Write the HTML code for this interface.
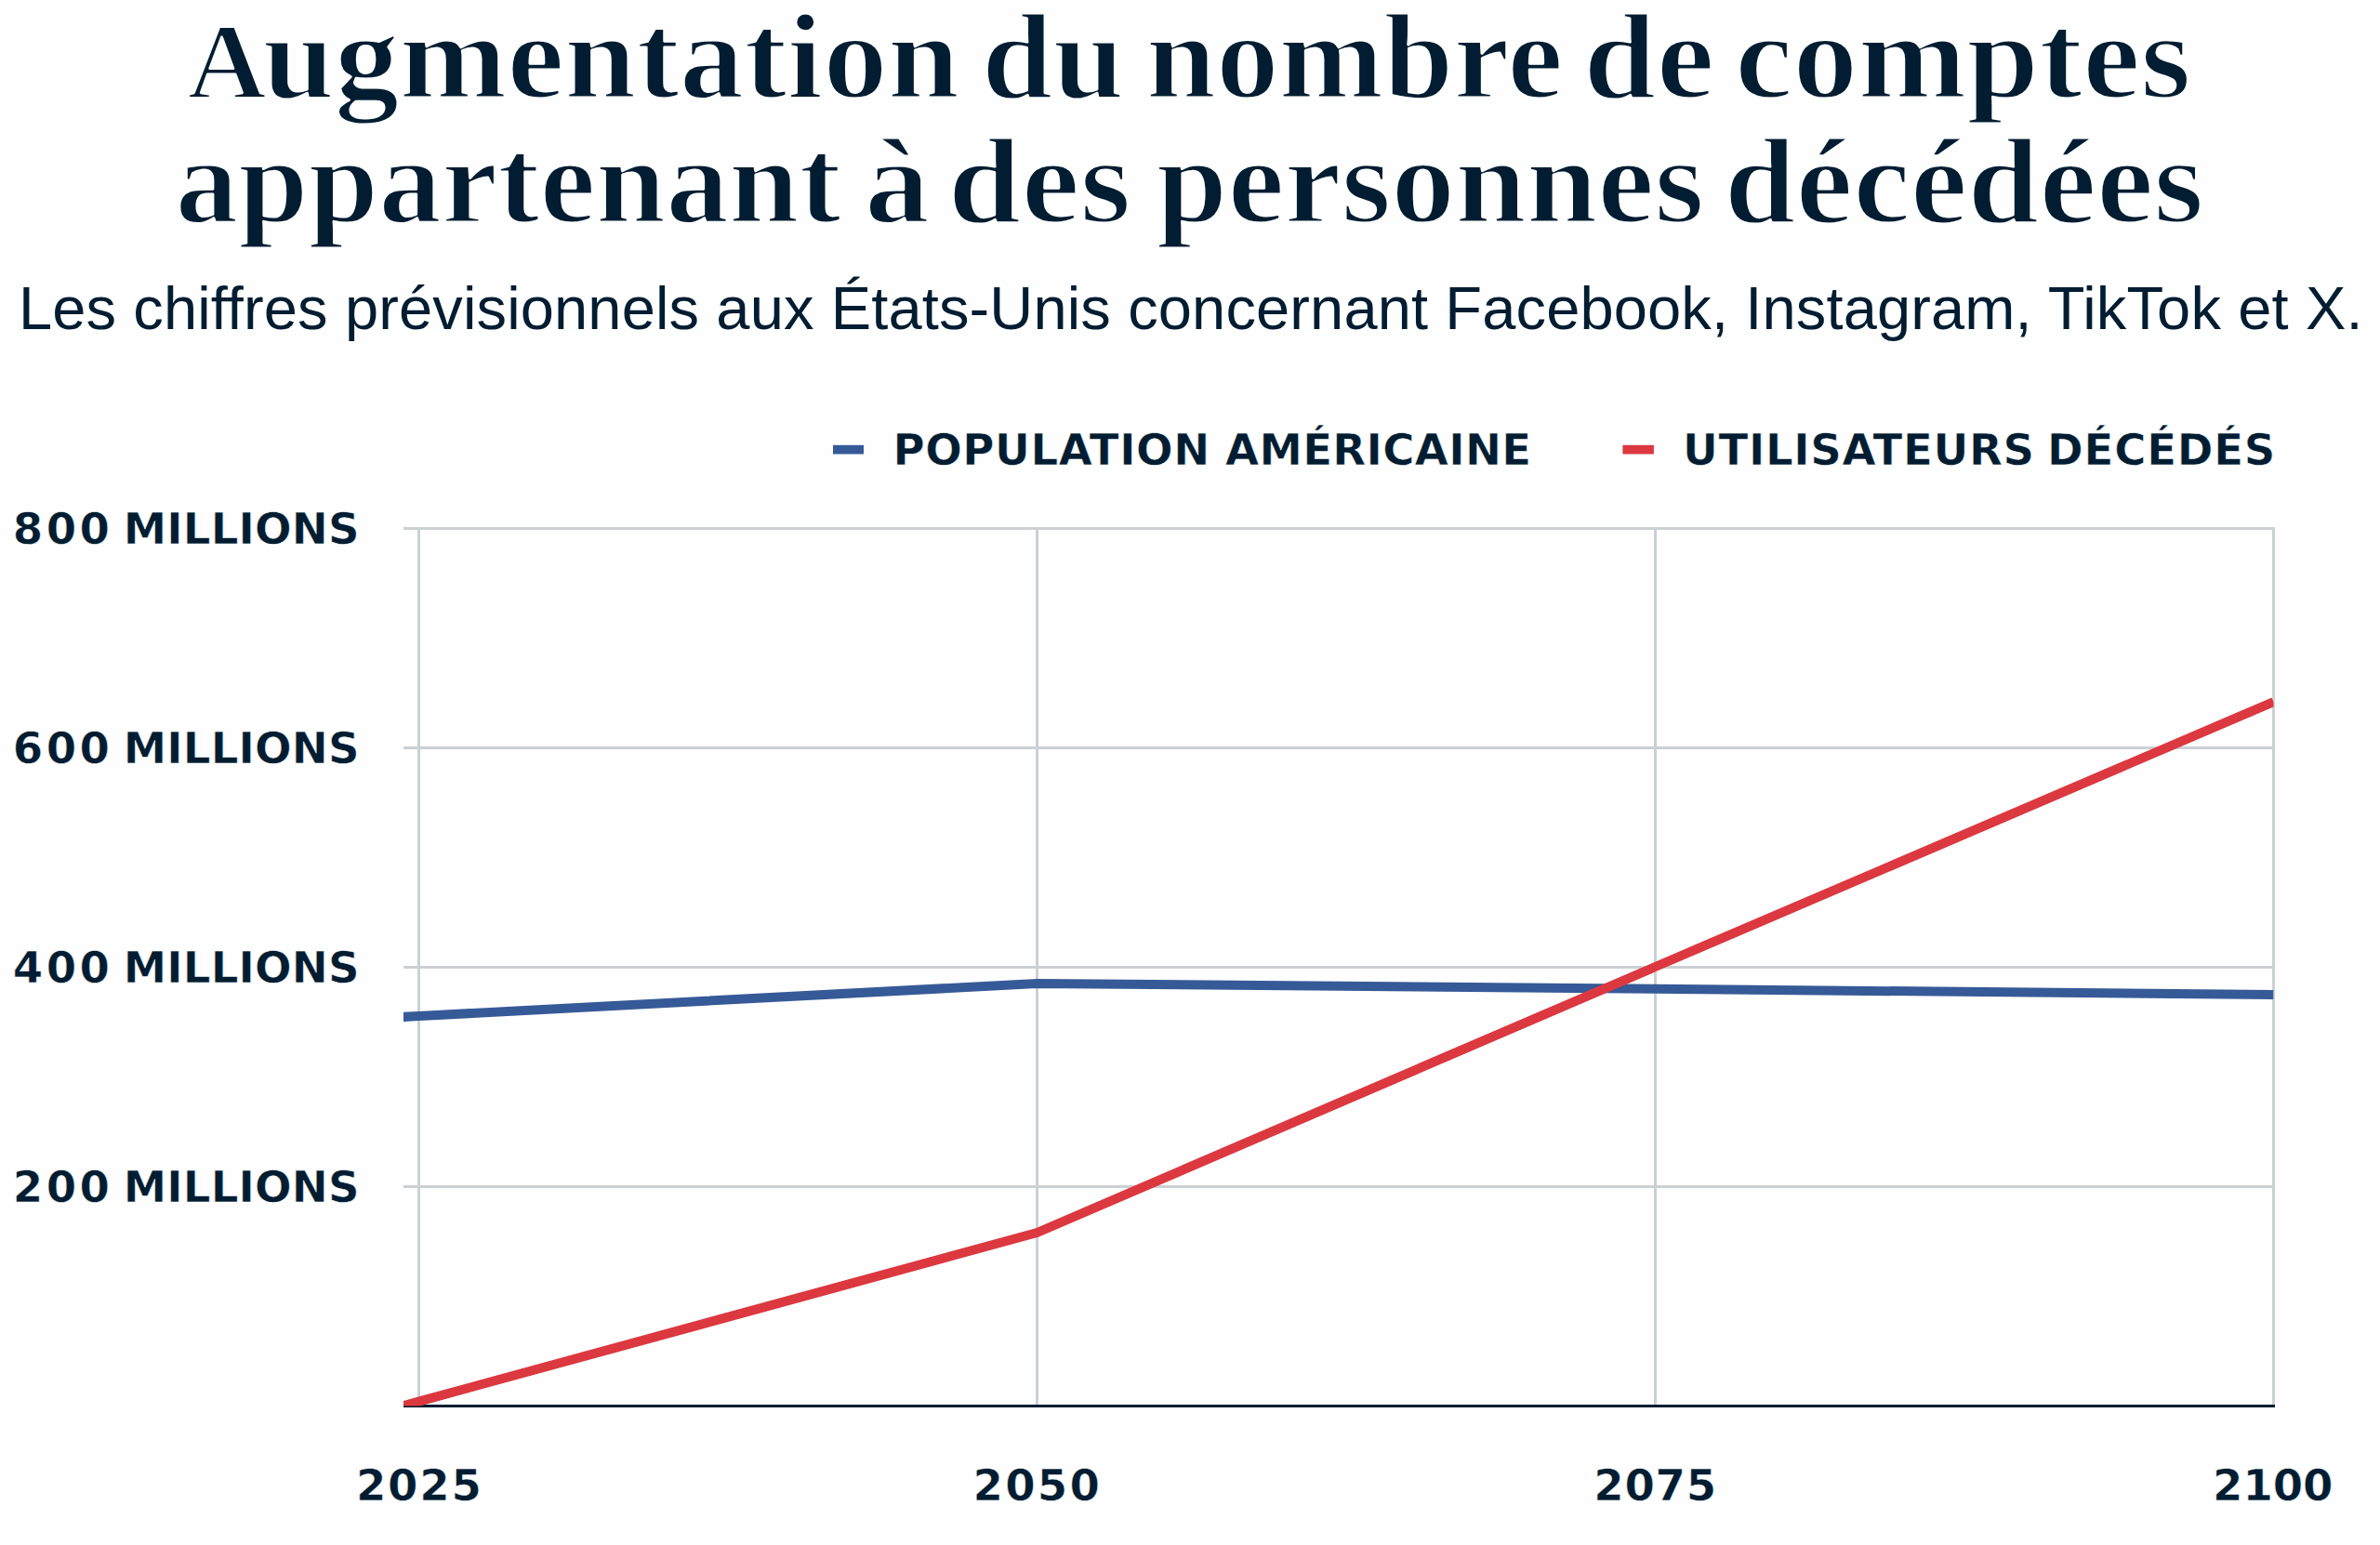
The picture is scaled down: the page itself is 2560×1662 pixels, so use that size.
<!DOCTYPE html>
<html lang="fr">
<head>
<meta charset="utf-8">
<title>Augmentation du nombre de comptes appartenant à des personnes décédées</title>
<style>
  html, body { margin: 0; padding: 0; background: #fefefe; }
  body { width: 2560px; height: 1662px; overflow: hidden; }
  svg { display: block; }
  .t { font-family: "Liberation Serif", serif; font-weight: 700; font-size: 132px; fill: #021d31; stroke: #fefefe; stroke-width: 2.8px; stroke-linejoin: round; }
  .sub { font-family: "Liberation Sans", sans-serif; font-weight: 400; font-size: 65px; fill: #021d31; }
  .lab { font-family: "DejaVu Sans", "Liberation Sans", sans-serif; font-weight: 700; font-size: 46.6px; fill: #021d31; stroke: #fefefe; stroke-width: 0.5px; stroke-linejoin: round; }
</style>
</head>
<body>
<svg width="2560" height="1662" viewBox="0 0 2560 1662">
  <defs>
    <clipPath id="plotclip"><rect x="434" y="400" width="2011.5" height="1112.5"/></clipPath>
  </defs>

  <!-- Title -->
  <text class="t" transform="translate(201.5 104.7) scale(1.0101 1)" style="font-size:117.0px">A</text>
  <text class="t" transform="translate(282.5 104.7) scale(1.0539 1)">ugmentation</text>
  <text class="t" transform="translate(1055.7 104.7) scale(1.0459 1)">du</text>
  <text class="t" transform="translate(1232.7 104.7) scale(1.0250 1)">nombre</text>
  <text class="t" transform="translate(1703.0 104.7) scale(1.0700 1)">de</text>
  <text class="t" transform="translate(1866.1 104.7) scale(1.0627 1)">comptes</text>
  <text class="t" transform="translate(188.5 239.1) scale(1.0279 1)">appartenant</text>
  <text class="t" transform="translate(929.9 239.1) scale(1.0625 1)">à</text>
  <text class="t" transform="translate(1019.5 239.1) scale(1.0750 1)">des</text>
  <text class="t" transform="translate(1243.8 239.1) scale(1.0436 1)">personnes</text>
  <text class="t" transform="translate(1854.4 239.1) scale(1.0511 1)">décédées</text>

  <!-- Subtitle -->
  <text class="sub" x="19.9" y="353.7" letter-spacing="0.14">Les chiffres prévisionnels aux États-Unis concernant Facebook, Instagram, TikTok et X.</text>

  <!-- Legend -->
  <rect x="896" y="478.8" width="33" height="9.7" fill="#365a97"/>
  <text class="lab" x="960.4" y="500.3" letter-spacing="0.59">POPULATION</text>
  <text class="lab" x="1318" y="500.3" letter-spacing="0.36">AMÉRICAINE</text>
  <rect x="1745.4" y="478.8" width="33.5" height="9.7" fill="#dc3840"/>
  <text class="lab" x="1810.1" y="500.3" letter-spacing="0.65">UTILISATEURS</text>
  <text class="lab" x="2202.1" y="500.3" letter-spacing="0.78">DÉCÉDÉS</text>

  <!-- Grid -->
  <g fill="#cbd0d5">
    <rect x="434" y="567" width="2013" height="3"/>
    <rect x="434" y="803" width="2013" height="3"/>
    <rect x="434" y="1039" width="2013" height="3"/>
    <rect x="434" y="1275" width="2013" height="3"/>
    <rect x="449" y="567" width="3" height="945"/>
    <rect x="1114" y="567" width="3" height="945"/>
    <rect x="1779" y="567" width="3" height="945"/>
    <rect x="2444" y="567" width="3" height="945"/>
  </g>
  <!-- Axis -->
  <rect x="434" y="1511" width="2013" height="3" fill="#021d31"/>

  <!-- Y labels -->
  <g>
    <text class="lab" x="13.8" y="585.3" letter-spacing="3.45">800</text>
    <text class="lab" x="132.8" y="585.3" letter-spacing="0.17">MILLIONS</text>
    <text class="lab" x="13.8" y="821.3" letter-spacing="3.45">600</text>
    <text class="lab" x="132.8" y="821.3" letter-spacing="0.17">MILLIONS</text>
    <text class="lab" x="13.8" y="1057.3" letter-spacing="3.45">400</text>
    <text class="lab" x="132.8" y="1057.3" letter-spacing="0.17">MILLIONS</text>
    <text class="lab" x="13.8" y="1293.3" letter-spacing="3.45">200</text>
    <text class="lab" x="132.8" y="1293.3" letter-spacing="0.17">MILLIONS</text>
  </g>

  <!-- X labels -->
  <text class="lab" x="382.9" y="1613.7" letter-spacing="1.77">2025</text>
  <text class="lab" x="1046.5" y="1613.7" letter-spacing="2.23">2050</text>
  <text class="lab" x="1714.3" y="1613.7" letter-spacing="0.73">2075</text>
  <text class="lab" x="2380.1" y="1613.7" letter-spacing="-0.1">2100</text>

  <!-- Lines -->
  <g clip-path="url(#plotclip)" fill="none" stroke-width="10" stroke-linejoin="round">
    <polyline stroke="#365a97" points="317.5,1100 450.5,1093 1115.5,1058 1780.5,1063.7 2445.5,1070.1"/>
    <polyline stroke="#dc3840" points="317.5,1544 450.5,1507.6 1115.5,1326 1780.5,1040 2445.5,755"/>
  </g>
</svg>
</body>
</html>
